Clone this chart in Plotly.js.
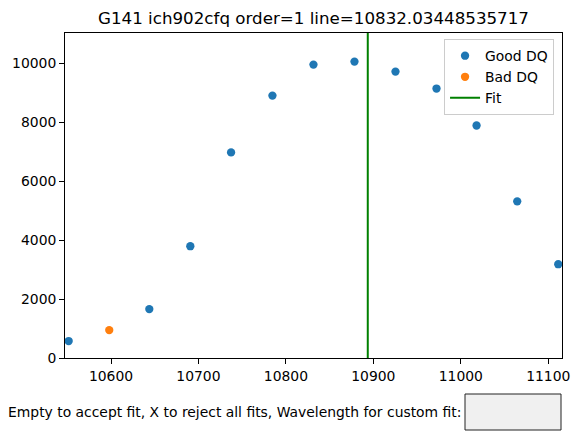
<!DOCTYPE html>
<html>
<head>
<meta charset="utf-8">
<script src="https://cdn.plot.ly/plotly-3.0.1.min.js"></script>
<style>html,body{margin:0;padding:0;background:#fff;}#chart{width:579px;height:445px;}</style>
</head>
<body>
<div id="chart"></div>
<script>
const goodX = [10551.6, 10643.8, 10690.7, 10737.3, 10784.6, 10831.5, 10878.4, 10925.3, 10972.2, 11018.0, 11064.5, 11111.4];
const goodY = [576, 1661, 3797, 6983, 8915, 9966, 10068, 9729, 9153, 7898, 5322, 3186];
const badX = [10598.0];
const badY = [949];
const fitX = 10893.6;
const xRange = [10547.4, 11115.7];
const yRange = [0, 11040];
const xTicks = [10600, 10700, 10800, 10900, 11000, 11100];
const yTicks = [0, 2000, 4000, 6000, 8000, 10000];
const titleText = "G141 ich902cfq order=1 line=10832.03448535717";
const promptText = "Empty to accept fit, X to reject all fits, Wavelength for custom fit:";

const font = "DejaVu Sans, sans-serif";
const traces = [
  {x: goodX, y: goodY, mode: 'markers', type: 'scatter', name: 'Good DQ',
   marker: {color: '#1f77b4', size: 8.3}},
  {x: badX, y: badY, mode: 'markers', type: 'scatter', name: 'Bad DQ',
   marker: {color: '#ff7f0e', size: 8.3}},
  {x: [fitX, fitX], y: yRange, mode: 'lines', type: 'scatter', name: 'Fit',
   line: {color: '#008000', width: 2}}
];
const axisCommon = {
  showgrid: false, zeroline: false, showline: true, mirror: true,
  linecolor: '#000', linewidth: 1, ticks: 'outside', ticklen: 4.9, tickwidth: 1,
  tickcolor: '#000', tickfont: {family: font, size: 13.9, color: '#000'}
};
const layout = {
  width: 579, height: 445,
  margin: {l: 65, r: 17, t: 33, b: 87},
  paper_bgcolor: '#fff', plot_bgcolor: '#fff',
  font: {family: font, color: '#000'},
  title: {text: titleText, font: {family: font, size: 16.7, color: '#000'},
          xref: 'paper', x: 0.5, xanchor: 'center', yref: 'container', y: 1 - 18/445, yanchor: 'middle'},
  xaxis: Object.assign({}, axisCommon, {range: xRange, tickvals: xTicks, ticktext: xTicks.map(String)}),
  yaxis: Object.assign({}, axisCommon, {range: yRange, tickvals: yTicks, ticktext: yTicks.map(String)}),
  showlegend: true,
  legend: {x: 0.984, y: 0.981, xanchor: 'right', yanchor: 'top',
           bgcolor: 'rgba(255,255,255,0.8)', bordercolor: '#cccccc', borderwidth: 1,
           font: {family: font, size: 13.9, color: '#000'}},
  shapes: [
    {type: 'rect', xref: 'paper', yref: 'paper',
     x0: (465-65)/497, x1: (561-65)/497, y0: (358-430)/325, y1: (358-394)/325,
     fillcolor: '#f0f0f0', line: {color: '#222', width: 1}}
  ],
  annotations: [
    {text: promptText, xref: 'paper', yref: 'paper', x: (463-65)/497, y: (358-412)/325,
     xanchor: 'right', yanchor: 'middle', showarrow: false,
     font: {family: font, size: 13.9, color: '#000'}}
  ]
};
Plotly.newPlot('chart', traces, layout, {displayModeBar: false, staticPlot: true});
</script>
</body>
</html>
